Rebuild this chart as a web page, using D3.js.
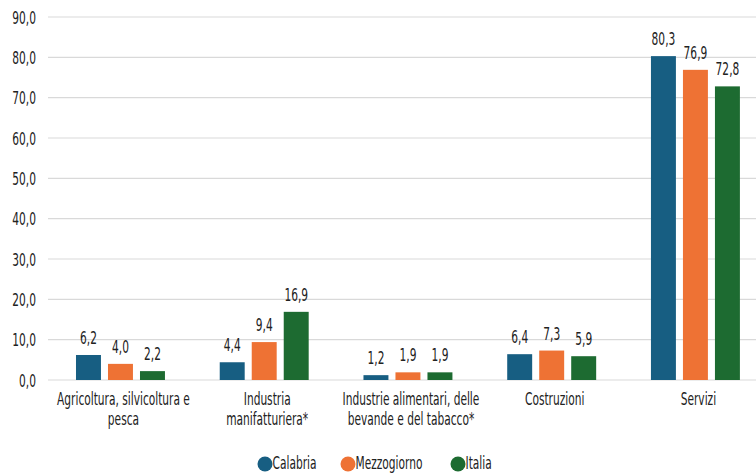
<!DOCTYPE html>
<html><head><meta charset="utf-8">
<script src="https://cdn.jsdelivr.net/npm/d3@7"></script>
<style>
html,body{margin:0;padding:0;background:#fff;}
svg{display:block;}
text{font-family:"DejaVu Sans Condensed","DejaVu Sans",sans-serif;font-stretch:condensed;fill:#222;}
</style></head>
<body>
<svg id="chart" width="756" height="474"></svg>
<script>
const categories = ["Agricoltura, silvicoltura e\npesca","Industria\nmanifatturiera*","Industrie alimentari, delle\nbevande e del tabacco*","Costruzioni","Servizi"];
const seriesNames = ["Calabria","Mezzogiorno","Italia"];
const calabria = [6.2, 4.4, 1.2, 6.4, 80.3];
const mezzogiorno = [4.0, 9.4, 1.9, 7.3, 76.9];
const italia = [2.2, 16.9, 1.9, 5.9, 72.8];
const yTicks = [0,10,20,30,40,50,60,70,80,90];
const colors = ["#175e82","#ee7234","#1d6b31"];

const seriesValues = [calabria, mezzogiorno, italia];
const svg = d3.select("#chart");
const fmt = v => d3.format(".1f")(v).replace(".", ",");
const FS = 18;

// measure horizontal compression so the font matches the reference's narrow face
const probe = svg.append("text").style("font-size", FS + "px").text("Costruzioni");
const sx = 59.5 / probe.node().getComputedTextLength();
probe.remove();

function label(parent, x, y, anchor, lines, lh) {
  const g = parent.append("g").attr("transform", `translate(${x},${y}) scale(${sx},1)`);
  const t = g.append("text").attr("text-anchor", anchor).style("font-size", FS + "px");
  lines.forEach((l, i) => t.append("tspan").attr("x", 0).attr("y", i * (lh || 0)).text(l));
  return t;
}

const x0 = d3.scaleBand().domain(categories).range([48.6, 767.3]).paddingInner(0).paddingOuter(0);
const x1 = d3.scaleBand().domain(seriesNames).range([0, 96]).paddingInner(0.22).paddingOuter(0.11);
const y = d3.scaleLinear().domain([0, 90]).range([380, 17]);

// gridlines
svg.append("g").selectAll("line").data(yTicks).join("line")
  .attr("x1", 48).attr("x2", 756)
  .attr("y1", d => y(d)).attr("y2", d => y(d))
  .attr("stroke", "#d9d9d9").attr("stroke-width", 1.2);

// y axis (ticks from the scale)
const ya = svg.append("g");
y.ticks(9).forEach(t => { if (yTicks.includes(t)) label(ya, 36, y(t) + 6.5, "end", [fmt(t)]); });

// bars
const groups = svg.append("g").selectAll("g").data(categories).join("g")
  .attr("transform", d => `translate(${x0(d) + x0.bandwidth()/2 - 48},0)`);

groups.each(function(cat, ci) {
  const g = d3.select(this);
  seriesNames.forEach((s, si) => {
    const v = seriesValues[si][ci];
    g.append("rect")
      .attr("x", x1(s)).attr("width", x1.bandwidth())
      .attr("y", y(v)).attr("height", y(0) - y(v))
      .attr("fill", colors[si]);
    label(g, x1(s) + x1.bandwidth()/2, y(v) - 11, "middle", [fmt(v)]);
  });
});

// x axis labels
const xa = svg.append("g");
categories.forEach(cat => {
  label(xa, x0(cat) + x0.bandwidth()/2 + 3, 405, "middle", cat.split("\n"), 20);
});

// legend
const legendX = [265, 348, 458];
const lg = svg.append("g");
seriesNames.forEach((s, i) => {
  lg.append("circle").attr("cx", legendX[i]).attr("cy", 464).attr("r", 7.5).attr("fill", colors[i]);
  label(lg, legendX[i] + 7.5, 469, "start", [s]);
});
</script>
</body></html>
